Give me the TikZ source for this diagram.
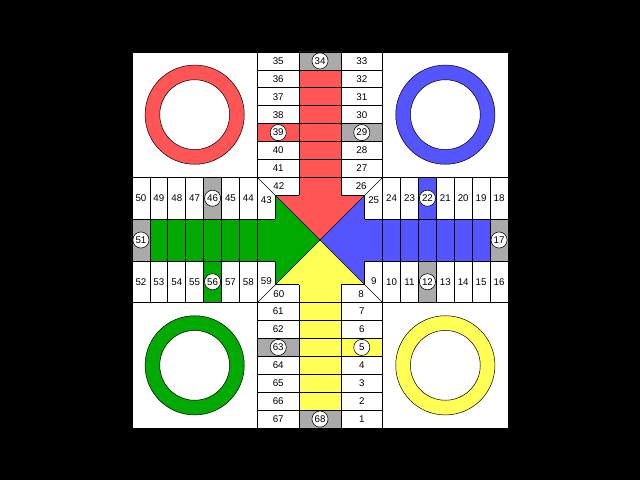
\documentclass[tikz,border=0pt]{standalone}
\usepackage{fontspec}
\setmainfont{Liberation Sans}
\definecolor{pred}{RGB}{255,85,85}
\definecolor{pblue}{RGB}{85,85,255}
\definecolor{pgreen}{RGB}{0,170,0}
\definecolor{pyellow}{RGB}{255,255,85}
\definecolor{pgray}{RGB}{170,170,170}
\tikzset{
  ln/.style={line width=1.1pt,black},
  num/.style={inner sep=0pt,font=\fontsize{15.5}{16}\selectfont},
  cnum/.style={circle,draw=black,fill=white,line width=0.9pt,minimum size=0.9cm,inner sep=0pt,font=\fontsize{15.5}{16}\selectfont},
  yard/.style={draw=black,line width=0.8pt,even odd rule}
}
\begin{document}
\begin{tikzpicture}[x=1cm,y=-1cm]
\def\A{9.3333}
\def\B{11.6667}
% background
\fill[black] (-7.372,-2.904) rectangle (28.372,23.904);
\useasboundingbox (-7.372,-2.904) rectangle (28.372,23.904);
\fill[white] (0,0) rectangle (21,21);
% lanes
\fill[pred] (\A,1) rectangle (\B,8) (7,4) rectangle (\A,5);
\fill[pyellow] (\A,13) rectangle (\B,20) (\B,16) rectangle (14,17);
\fill[pgreen] (1,\A) rectangle (8,\B) (4,\B) rectangle (5,14);
\fill[pblue] (13,\A) rectangle (20,\B) (16,7) rectangle (17,\A);
\fill[pgray] (\A,0) rectangle (\B,1) (\B,4) rectangle (14,5)
  (\A,20) rectangle (\B,21) (7,16) rectangle (\A,17)
  (0,\A) rectangle (1,\B) (4,7) rectangle (5,\A)
  (20,\A) rectangle (21,\B) (16,\B) rectangle (17,14);
% triangles
\coordinate (C) at (10.5,10.5);
\fill[pred] (8,8) -- (13,8) -- (C) -- cycle;
\fill[pblue] (13,8) -- (13,13) -- (C) -- cycle;
\fill[pyellow] (13,13) -- (8,13) -- (C) -- cycle;
\fill[pgreen] (8,13) -- (8,8) -- (C) -- cycle;
% yards
\fill[pred,yard] (3.5,3.5) circle (2.77) (3.5,3.5) circle (1.95);
\fill[pblue,yard] (17.5,3.5) circle (2.77) (17.5,3.5) circle (1.95);
\fill[pgreen,yard] (3.5,17.5) circle (2.77) (3.5,17.5) circle (1.95);
\fill[pyellow,yard] (17.5,17.5) circle (2.77) (17.5,17.5) circle (1.95);
% lines
\draw[ln] (0,0) rectangle (21,21);
\draw[ln] (7,0) -- (7,21) (14,0) -- (14,21) (0,7) -- (21,7) (0,14) -- (21,14);
\draw[ln] (\A,0) -- (\A,8) (\B,0) -- (\B,8) (\A,13) -- (\A,21) (\B,13) -- (\B,21);
\draw[ln] (0,\A) -- (8,\A) (0,\B) -- (8,\B) (13,\A) -- (21,\A) (13,\B) -- (21,\B);
\foreach \i in {1,...,6} {
  \draw[ln] (7,\i) -- (14,\i);
  \draw[ln] (7,14+\i) -- (14,14+\i);
  \draw[ln] (\i,7) -- (\i,14);
  \draw[ln] (14+\i,7) -- (14+\i,14);
}
\draw[ln] (7,7) -- (14,14) (14,7) -- (7,14);
\draw[ln] (8,8) -- (\A,8) (\B,8) -- (13,8)
  (8,13) -- (\A,13) (\B,13) -- (13,13)
  (8,8) -- (8,\A) (8,\B) -- (8,13)
  (13,8) -- (13,\A) (13,\B) -- (13,13);
% top arm numbers
\foreach \r in {0,1,2,3,5,6} {
  \pgfmathtruncatemacro\n{35+\r}
  \pgfmathtruncatemacro\m{33-\r}
  \node[num] (tl\r) at (8.1667,\r+0.5) {\n};
  \node[num] (tr\r) at (12.8333,\r+0.5) {\m};
}
\node[cnum] (c39) at (8.1667,4.5) {39};
\node[cnum] (c29) at (12.8333,4.5) {29};
\node[cnum] (c34) at (10.5,0.5) {34};
% bottom arm numbers
\foreach \r in {0,1,3,4,5,6} {
  \pgfmathtruncatemacro\n{61+\r}
  \pgfmathtruncatemacro\m{7-\r}
  \node[num] (bl\r) at (8.1667,14.5+\r) {\n};
  \node[num] (br\r) at (12.8333,14.5+\r) {\m};
}
\node[cnum] (c63) at (8.1667,16.5) {63};
\node[cnum] (c5) at (12.8333,16.5) {5};
\node[cnum] (c68) at (10.5,20.5) {68};
% left arm numbers
\foreach \c in {0,1,2,3,5,6} {
  \pgfmathtruncatemacro\n{50-\c}
  \pgfmathtruncatemacro\m{52+\c}
  \node[num] (lt\c) at (\c+0.5,8.1667) {\n};
  \node[num] (lb\c) at (\c+0.5,12.8333) {\m};
}
\node[cnum] (c46) at (4.5,8.1667) {46};
\node[cnum] (c56) at (4.5,12.8333) {56};
\node[cnum] (c51) at (0.5,10.5) {51};
% right arm numbers
\foreach \c in {0,1,3,4,5,6} {
  \pgfmathtruncatemacro\n{24-\c}
  \pgfmathtruncatemacro\m{10+\c}
  \node[num] (rt\c) at (14.5+\c,8.1667) {\n};
  \node[num] (rb\c) at (14.5+\c,12.8333) {\m};
}
\node[cnum] (c22) at (16.5,8.1667) {22};
\node[cnum] (c12) at (16.5,12.8333) {12};
\node[cnum] (c17) at (20.5,10.5) {17};
% ring numbers
\node[num] (n42) at (8.2,7.5) {42};
\node[num] (n26) at (12.8,7.5) {26};
\node[num] (n43) at (7.5,8.25) {43};
\node[num] (n25) at (13.5,8.25) {25};
\node[num] (n59) at (7.5,12.8) {59};
\node[num] (n9) at (13.5,12.8) {9};
\node[num] (n60) at (8.2,13.5) {60};
\node[num] (n8) at (12.8,13.5) {8};
\end{tikzpicture}
\end{document}
